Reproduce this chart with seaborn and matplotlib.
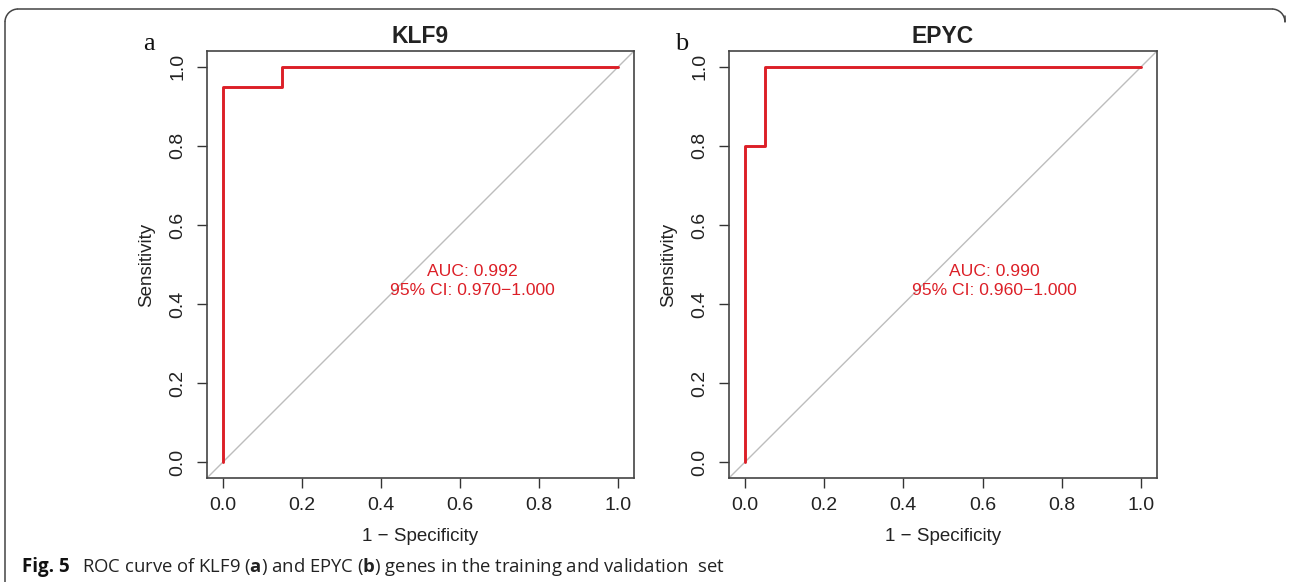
import matplotlib
matplotlib.use("Agg")
import matplotlib.pyplot as plt
import seaborn as sns
import pandas as pd
from matplotlib.lines import Line2D
from matplotlib.patches import Arc

sns.set_theme(style="white")
plt.rcParams['font.family'] = ['Liberation Sans', 'DejaVu Sans']
plt.rcParams['mathtext.fontset'] = 'custom'
plt.rcParams['mathtext.rm'] = 'Open Sans'
plt.rcParams['mathtext.bf'] = 'Open Sans:bold'

# Data
genes = ["KLF9", "EPYC"]
panel_letters = ["a", "b"]
klf9_fpr = [0.0, 0.0, 0.15, 0.15, 1.0]
klf9_tpr = [0.0, 0.95, 0.95, 1.0, 1.0]
epyc_fpr = [0.0, 0.0, 0.05, 0.05, 1.0]
epyc_tpr = [0.0, 0.80, 0.80, 1.0, 1.0]
auc_texts = ["AUC: 0.992\n95% CI: 0.970\u22121.000", "AUC: 0.990\n95% CI: 0.960\u22121.000"]
ticks = [0.0, 0.2, 0.4, 0.6, 0.8, 1.0]
tick_labels = ["0.0", "0.2", "0.4", "0.6", "0.8", "1.0"]

curves = [(klf9_fpr, klf9_tpr), (epyc_fpr, epyc_tpr)]

W, H = 1290, 582
fig = plt.figure(figsize=(W / 100, H / 100), dpi=100)

red = "#dc1f27"
axes_px = [(207, 51, 634, 478), (729, 51, 1157, 478)]
letter_x = [143, 675]

for i, (l, t, r, b) in enumerate(axes_px):
    ax = fig.add_axes([l / W, 1 - b / H, (r - l) / W, (b - t) / H])
    fpr, tpr = curves[i]
    df = pd.DataFrame({"fpr": fpr, "tpr": tpr})
    ax.plot([-0.04, 1.04], [-0.04, 1.04], color="#bdbdbd", lw=1.0, zorder=1)
    sns.lineplot(data=df, x="fpr", y="tpr", sort=False, estimator=None,
                 color=red, lw=2.1, ax=ax, zorder=3)
    ax.set_xlim(-0.04, 1.04)
    ax.set_ylim(-0.04, 1.04)
    ax.set_xticks(ticks)
    ax.set_xticklabels(tick_labels)
    ax.set_yticks(ticks)
    ax.set_yticklabels(tick_labels, rotation=90, va="center")
    ax.tick_params(axis="both", direction="out", length=7.5, width=1.0,
                   color="#333333", labelsize=14, labelcolor="#222222",
                   bottom=True, left=True, pad=6)
    ax.tick_params(axis="y", pad=7.5)
    for s in ax.spines.values():
        s.set_color("#444444")
        s.set_linewidth(1.2)
    ax.set_xlabel("1 \u2212 Specificity", fontsize=13.5, color="#222222", labelpad=10)
    ax.set_ylabel("Sensitivity", fontsize=13.5, color="#222222", labelpad=10)
    ax.set_title(genes[i], fontsize=16.5, fontweight="bold", color="#222222", pad=6)
    ax.text(0.63, 0.458, auc_texts[i], color=red, fontsize=12.6, ha="center",
            va="center", linespacing=1.3)
    ax.grid(False)
    fig.text(letter_x[i] / W, 1 - 50 / H, panel_letters[i], fontsize=19,
             family="Liberation Serif", color="#111111", ha="left", va="baseline")

# Frame lines (top and left with rounded corners)
fc = "#444444"
fig.add_artist(Line2D([18 / W, 1272 / W], [1 - 9 / H, 1 - 9 / H], color=fc, lw=1.1))
fig.add_artist(Line2D([5 / W, 5 / W], [0, 1 - 22 / H], color=fc, lw=1.1))
fig.add_artist(Line2D([1285 / W, 1285 / W], [1 - 16 / H, 1 - 22 / H], color=fc, lw=1.1))
fig.add_artist(Arc((18, H - 22), 26, 26, theta1=90, theta2=180, color=fc, lw=1.1,
                   transform=None))
fig.add_artist(Arc((1272, H - 22), 26, 26, theta1=0, theta2=90, color=fc, lw=1.1,
                   transform=None))

fig.text(22 / W, 1 - 567 / H, "Fig. 5", fontsize=13.5, fontweight="bold",
         family="Open Sans", color="#111111", va="center", ha="left")
caption = (r"ROC curve of KLF9 ($\mathbf{a}$) and EPYC ($\mathbf{b}$) genes in "
           r"the training and validation  set")
fig.text(82 / W, 1 - 567 / H, caption, fontsize=13.3, family="Open Sans",
         color="#222222", va="center", ha="left")

fig.savefig("out.png", dpi=100, facecolor="white")
